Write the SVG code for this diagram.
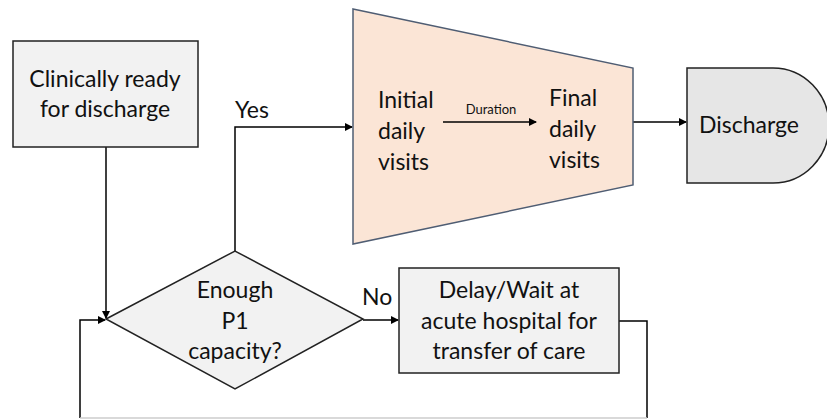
<svg xmlns="http://www.w3.org/2000/svg" width="827" height="419" viewBox="0 0 827 419">
<defs>
<marker id="ah" markerWidth="8" markerHeight="8" refX="7" refY="4" orient="auto" markerUnits="userSpaceOnUse">
<path d="M0,0 L8,4 L0,8 Z" fill="#000"/>
</marker>
<style>
text{font-family:Lato,"Liberation Sans",Arial,sans-serif;font-size:23px;fill:#111;}
.c{text-anchor:middle;}
.box{fill:#f2f2f2;stroke:#222;stroke-width:1.5;}
.ln{fill:none;stroke:#000;stroke-width:1.5;}
</style>
</defs>
<rect width="827" height="419" fill="#fff"/>
<g id="connectors">
<path class="ln" d="M106,147 V318" marker-end="url(#ah)"/>
<path class="ln" d="M235,251 V127 H352" marker-end="url(#ah)"/>
<path class="ln" d="M363,320 H398" marker-end="url(#ah)"/>
<path class="ln" d="M633,122 H686" marker-end="url(#ah)"/>
<path class="ln" d="M619,321 H647 V418"/>
<path class="ln" d="M80,418 V320 H105" marker-end="url(#ah)"/>
<path d="M80,418 H647" fill="none" stroke="#ccc" stroke-width="1.5"/>
<text x="235" y="118">Yes</text>
<text x="362" y="305">No</text>
</g>
<g id="ready">
<rect class="box" x="13" y="41" width="185" height="106"/>
<text class="c" x="105" y="87">Clinically ready</text>
<text class="c" x="105" y="117">for discharge</text>
</g>
<g id="decision">
<path class="box" d="M106,319 L235,251 L363,319 L235,389 Z"/>
<text class="c" x="235" y="298">Enough</text>
<text class="c" x="235" y="329">P1</text>
<text class="c" x="235" y="359">capacity?</text>
</g>
<g id="visits">
<path d="M353,9 L633,68 L633,185 L353,244 Z" fill="#fbe5d6" stroke="#4f5d73" stroke-width="1.5"/>
<text x="378" y="108">Initial</text>
<text x="378" y="139">daily</text>
<text x="378" y="170">visits</text>
<text x="549" y="106">Final</text>
<text x="549" y="137">daily</text>
<text x="549" y="168">visits</text>
<text class="c" x="491" y="114" style="font-size:13px">Duration</text>
<path class="ln" d="M443,122 H536" stroke-width="1" marker-end="url(#ah)"/>
</g>
<g id="discharge">
<path d="M687,68 H773 A56,57.5 0 0 1 773,183 H687 Z" fill="#e6e6e6" stroke="#222" stroke-width="1.5"/>
<text x="699" y="133">Discharge</text>
</g>
<g id="delay">
<rect class="box" x="399" y="268" width="220" height="105"/>
<text class="c" x="509" y="298">Delay/Wait at</text>
<text class="c" x="509" y="329">acute hospital for</text>
<text class="c" x="509" y="359">transfer of care</text>
</g>
</svg>
